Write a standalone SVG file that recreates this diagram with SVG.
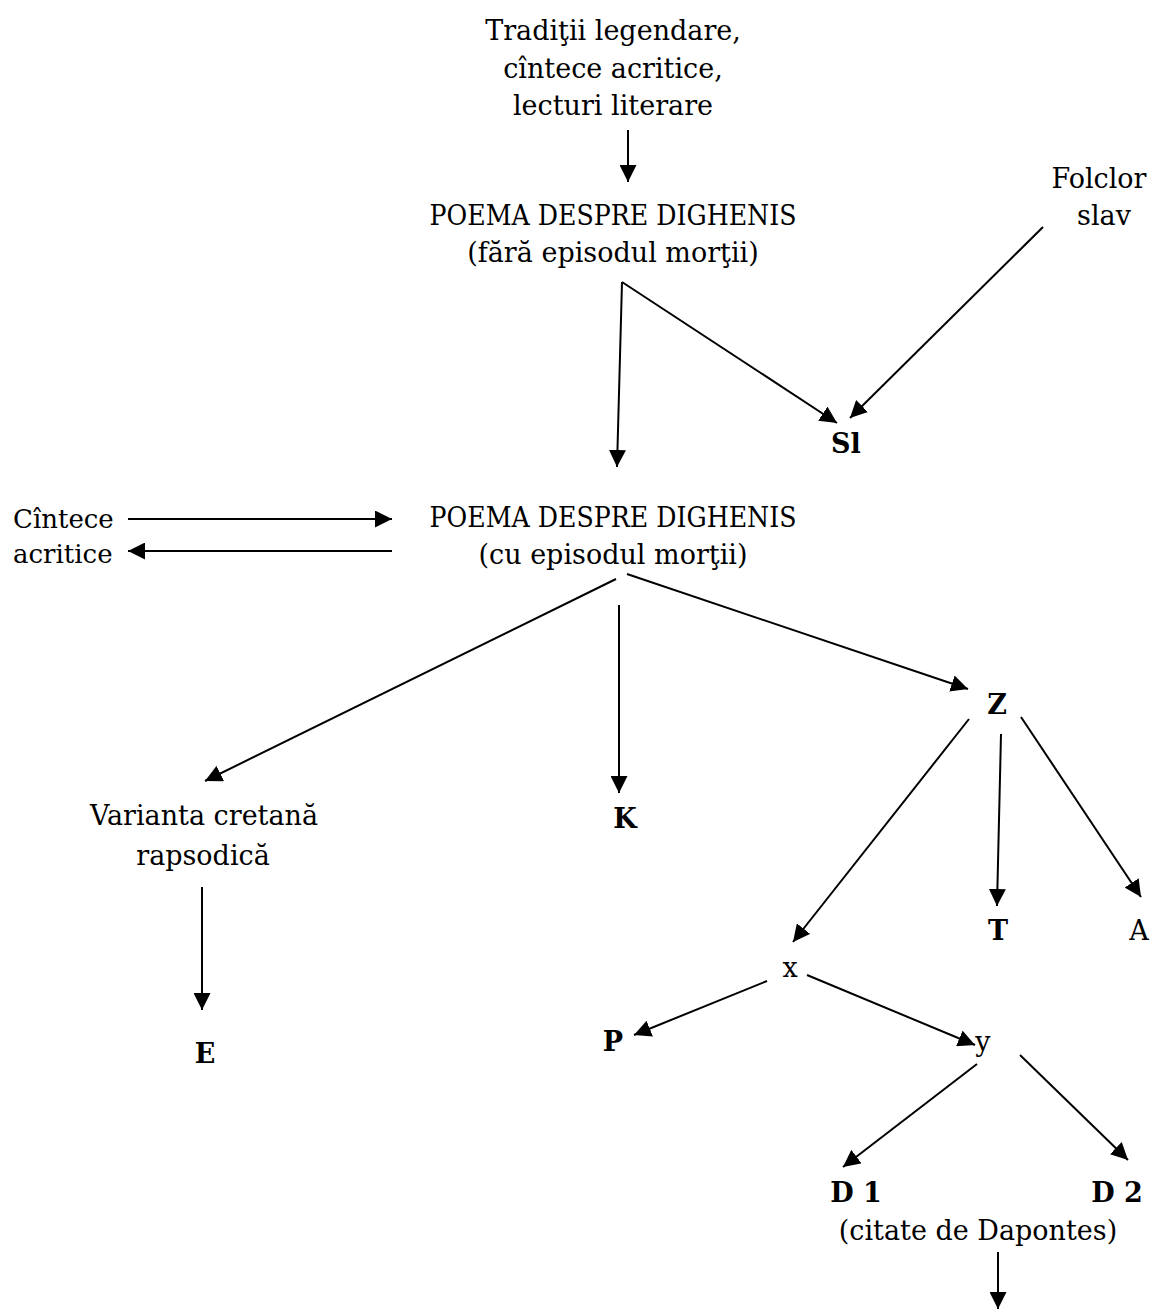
<svg xmlns="http://www.w3.org/2000/svg" width="1151" height="1311" viewBox="0 0 1151 1311">
<defs>
<style>
text{font-family:"DejaVu Serif","Liberation Serif",serif;font-size:27px;fill:#000;}
.c{text-anchor:middle;}
.b{font-weight:bold;}
.s{font-size:26px;}
.e line{stroke:#000;stroke-width:2;fill:none;marker-end:url(#ah);}
</style>
<marker id="ah" markerUnits="userSpaceOnUse" markerWidth="18" markerHeight="17" refX="17" refY="8.5" orient="auto" viewBox="0 0 18 17">
<path d="M0,0 L17,8.5 L0,17 z" fill="#000"/>
</marker>
</defs>
<rect width="1151" height="1311" fill="#fff"/>
<g id="n-traditii"><text class="c" x="613" y="40">Tradiţii legendare,</text><text class="c" x="613" y="78">cîntece acritice,</text><text class="c" x="613" y="115">lecturi literare</text></g>
<g id="n-poema1"><text class="c" x="613" y="225" textLength="367" lengthAdjust="spacingAndGlyphs">POEMA DESPRE DIGHENIS</text><text class="c" x="613" y="262">(fără episodul morţii)</text></g>
<g id="n-folclor"><text class="c" x="1099" y="188">Folclor</text><text class="c" x="1104" y="225">slav</text></g>
<g id="n-sl"><text class="c b" x="846" y="453">Sl</text></g>
<g id="n-cintece"><text class="s" x="13" y="528">Cîntece</text><text class="s" x="13" y="563">acritice</text></g>
<g id="n-poema2"><text class="c" x="613" y="527" textLength="367" lengthAdjust="spacingAndGlyphs">POEMA DESPRE DIGHENIS</text><text class="c" x="613" y="564">(cu episodul morţii)</text></g>
<g id="n-varianta"><text class="c" x="204" y="825">Varianta cretană</text><text class="c" x="203" y="865">rapsodică</text></g>
<g id="n-k"><text class="c b" x="625" y="828">K</text></g>
<g id="n-z"><text class="c b" x="997" y="714">Z</text></g>
<g id="n-t"><text class="c b" x="998" y="940">T</text></g>
<g id="n-a"><text class="c" x="1139" y="940">A</text></g>
<g id="n-x"><text class="c" x="790" y="977">x</text></g>
<g id="n-e"><text class="c b" x="205" y="1063">E</text></g>
<g id="n-p"><text class="c b" x="613" y="1051">P</text></g>
<g id="n-y"><text class="c" x="983" y="1051">y</text></g>
<g id="n-d1"><text class="c b" x="856" y="1202">D 1</text></g>
<g id="n-d2"><text class="c b" x="1117" y="1202">D 2</text></g>
<g id="n-citate"><text class="c" x="978" y="1240">(citate de Dapontes)</text></g>
<g id="connectors" class="e">
<line x1="628" y1="130" x2="628" y2="182"/>
<line x1="622" y1="282" x2="617" y2="467"/>
<line x1="622" y1="282" x2="837" y2="423"/>
<line x1="1043" y1="227" x2="850" y2="418"/>
<line x1="128" y1="519" x2="392" y2="519"/>
<line x1="392" y1="551" x2="128" y2="551"/>
<line x1="616" y1="579" x2="205" y2="781"/>
<line x1="619" y1="605" x2="619" y2="793"/>
<line x1="627" y1="574" x2="968" y2="689"/>
<line x1="969" y1="719" x2="793" y2="942"/>
<line x1="1001" y1="734" x2="997" y2="906"/>
<line x1="1021" y1="717" x2="1141" y2="897"/>
<line x1="202" y1="887" x2="202" y2="1010"/>
<line x1="767" y1="981" x2="634" y2="1035"/>
<line x1="807" y1="975" x2="975" y2="1045"/>
<line x1="977" y1="1064" x2="843" y2="1167"/>
<line x1="1020" y1="1055" x2="1128" y2="1160"/>
<line x1="998" y1="1252" x2="998" y2="1309"/>
</g>
</svg>
